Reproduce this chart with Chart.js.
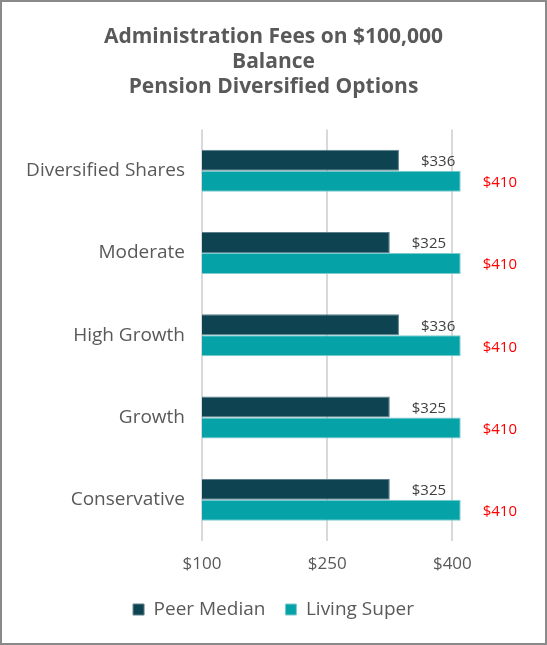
<!DOCTYPE html>
<html>
<head>
<meta charset="utf-8">
<script src="https://cdn.jsdelivr.net/npm/chart.js@4"></script>
<style>
  html, body { margin: 0; padding: 0; background: #fff; }
  #wrap { width: 547px; height: 645px; box-sizing: border-box; border: 2px solid #8a8a8a; }
  canvas { display: block; }
</style>
</head>
<body>
<div id="wrap"><canvas id="c" width="543" height="641"></canvas></div>
<script>
// Administration fees on $100,000 balance, pension diversified options
const categories  = ['Diversified Shares', 'Moderate', 'High Growth', 'Growth', 'Conservative'];
const peerMedian  = [336, 325, 336, 325, 325];
const livingSuper = [410, 410, 410, 410, 410];
const tickValues  = [100, 250, 400];
const titleLines  = ['Administration Fees on $100,000', 'Balance', 'Pension Diversified Options'];

const FONT = "'Open Sans', sans-serif";
const GREY = '#595959';

// value labels drawn to the right of each bar end
const barLabels = {
  id: 'barLabels',
  afterDatasetsDraw(chart){
    const ctx = chart.ctx;
    ctx.save();
    ctx.textAlign = 'left';
    ctx.textBaseline = 'middle';
    ctx.font = '15px ' + FONT;
    chart.data.datasets.forEach((ds, i) => {
      const meta = chart.getDatasetMeta(i);
      ctx.fillStyle = i === 0 ? '#404040' : '#ff0000';
      meta.data.forEach((bar, j) => {
        ctx.fillText('$' + ds.data[j], bar.x + 22, bar.y + 1.5);
      });
    });
    ctx.restore();
  }
};

new Chart(document.getElementById('c'), {
  type: 'bar',
  data: {
    labels: categories,
    datasets: [
      { label: 'Peer Median', data: peerMedian, backgroundColor: '#0e4451', borderColor: '#5d808a', borderWidth: 1, borderSkipped: 'left' },
      { label: 'Living Super', data: livingSuper, backgroundColor: '#05a3a8', borderColor: '#7ccbce', borderWidth: 1, borderSkipped: 'left' }
    ]
  },
  options: {
    indexAxis: 'y',
    responsive: false,
    animation: false,
    categoryPercentage: 0.51,
    barPercentage: 1,
    layout: { padding: { left: 0, right: 0, top: 0, bottom: 14 } },
    plugins: {
      title: {
        display: true,
        text: titleLines,
        color: GREY,
        font: { family: FONT, size: 21, weight: 'bold', lineHeight: 1.2 },
        padding: { top: 22, bottom: 30 }
      },
      legend: {
        position: 'bottom',
        labels: {
          color: GREY,
          font: { family: FONT, size: 19 },
          boxWidth: 11,
          boxHeight: 11,
          padding: 20
        }
      },
      tooltip: { enabled: false }
    },
    scales: {
      x: {
        min: 100,
        max: 511,
        afterBuildTicks(scale){ scale.ticks = tickValues.map(v => ({ value: v })); },
        afterFit(scale){ scale.height = 39; },
        ticks: {
          color: GREY,
          font: { family: FONT, size: 17 },
          padding: 13,
          callback: v => '$' + v
        },
        grid: { color: '#d9d9d9', lineWidth: 2, drawTicks: false },
        border: { display: false }
      },
      y: {
        afterFit(scale){ scale.width = 200; },
        ticks: {
          color: GREY,
          font: { family: FONT, size: 19 },
          padding: 17
        },
        grid: { display: false, drawTicks: false },
        border: { display: false }
      }
    }
  },
  plugins: [barLabels]
});
</script>
</body>
</html>
